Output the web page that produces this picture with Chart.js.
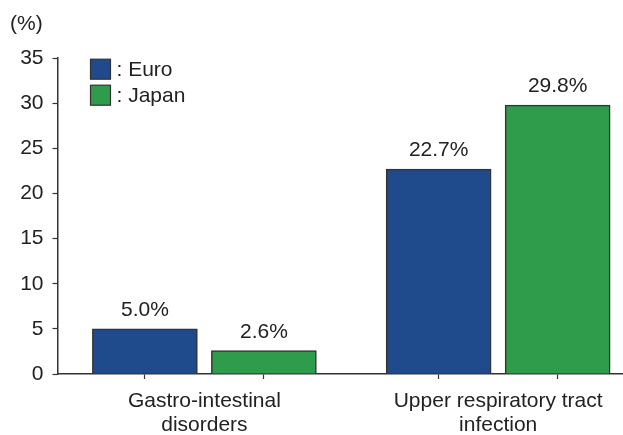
<!DOCTYPE html>
<html lang="en">
<head>
  <meta charset="UTF-8">
  <title>Euro vs Japan adverse events</title>
  <style>
body {
  margin: 0;
  background: #ffffff;
}
#wrap {
  width: 623px;
  height: 435px;
}
  </style>
</head>
<body>
  <div id="wrap"><canvas id="chart"></canvas></div>

  <script src="https://cdn.jsdelivr.net/npm/chart.js"></script>
  <script>
    const categories = [['Gastro-intestinal', 'disorders'], ['Upper respiratory tract', 'infection']];
    const seriesNames = [': Euro', ': Japan'];
    const euroValues = [5.0, 22.7];
    const japanValues = [2.6, 29.8];
    const yTicks = [0, 5, 10, 15, 20, 25, 30, 35];

    const FONT = 'Liberation Sans, Arial, Helvetica, sans-serif';
    const INK = '#222222';
    const LINE = '#333333';
    const BAR_OFFSET = 0.2024; // half distance between the two bars of a group, in x units

    // tick marks sit under each bar, labels under each group
    const xTickValues = [];
    categories.forEach((_, i) => {
      xTickValues.push(i + 1 - BAR_OFFSET, i + 1, i + 1 + BAR_OFFSET);
    });
    const isCenter = v => Math.abs(v - Math.round(v)) < 1e-6;

    // legend drawn inside the plot area, top left
    const insideLegend = {
      id: 'insideLegend',
      afterDraw(chart) {
        const ctx = chart.ctx;
        const area = chart.chartArea;
        const x = area.left + 33;
        let y = area.top + 1;
        ctx.save();
        ctx.font = '21px ' + FONT;
        ctx.textBaseline = 'middle';
        chart.data.datasets.forEach(ds => {
          ctx.fillStyle = ds.backgroundColor;
          ctx.fillRect(x, y, 20, 20);
          ctx.strokeStyle = LINE;
          ctx.lineWidth = 1.2;
          ctx.strokeRect(x, y, 20, 20);
          ctx.fillStyle = INK;
          ctx.fillText(ds.label, x + 26, y + 11);
          y += 26;
        });
        ctx.restore();
      }
    };

    // value labels above the bars
    const valueLabels = {
      id: 'valueLabels',
      afterDatasetsDraw(chart) {
        const ctx = chart.ctx;
        ctx.save();
        ctx.font = '21px ' + FONT;
        ctx.fillStyle = INK;
        ctx.textAlign = 'center';
        ctx.textBaseline = 'alphabetic';
        chart.data.datasets.forEach((ds, di) => {
          chart.getDatasetMeta(di).data.forEach((bar, i) => {
            ctx.fillText(ds.data[i].y.toFixed(1) + '%', bar.x, bar.y - 13);
          });
        });
        ctx.restore();
      }
    };

    new Chart(document.getElementById('chart'), {
      type: 'bar',
      data: {
        datasets: [{
          label: seriesNames[0],
          data: euroValues.map((v, i) => ({ x: i + 1, y: v })),
          backgroundColor: '#1f4a8c',
          borderColor: LINE,
          borderWidth: 1.5
        }, {
          label: seriesNames[1],
          data: japanValues.map((v, i) => ({ x: i + 1, y: v })),
          backgroundColor: '#2e9c4a',
          borderColor: LINE,
          borderWidth: 1.5
        }]
      },
      options: {
        responsive: true,
        maintainAspectRatio: false,
        animation: false,
        barThickness: 119,
        maxBarThickness: 105,
        layout: {
          padding: { left: 10, right: 0, top: 0, bottom: 0 }
        },
        plugins: {
          legend: { display: false },
          tooltip: { enabled: false },
          title: {
            display: true,
            text: '(%)',
            align: 'start',
            color: INK,
            font: { family: FONT, size: 21, weight: 'normal', lineHeight: 1.2 },
            padding: { top: 12, bottom: 21 }
          }
        },
        scales: {
          x: {
            type: 'linear',
            offset: false,
            min: 0.5,
            max: 2.425,
            afterBuildTicks(scale) {
              scale.ticks = xTickValues.map(v => ({ value: v }));
            },
            afterFit(scale) {
              scale.height = 61;
            },
            grid: {
              offset: false,
              drawOnChartArea: false,
              tickLength: 5,
              tickWidth: 1.2,
              tickColor: c => (c.tick && isCenter(c.tick.value)) ? 'rgba(0,0,0,0)' : LINE
            },
            border: { color: LINE, width: 1.5 },
            ticks: {
              autoSkip: false,
              maxRotation: 0,
              padding: 10,
              color: INK,
              font: { family: FONT, size: 21, lineHeight: 1.15 },
              callback: v => isCenter(v) ? categories[Math.round(v) - 1] : ''
            }
          },
          y: {
            min: 0,
            max: 35,
            afterBuildTicks(scale) {
              scale.ticks = yTicks.map(v => ({ value: v }));
            },
            afterFit(scale) {
              scale.width = 47.5;
            },
            grid: {
              drawOnChartArea: false,
              tickLength: 5,
              tickWidth: 1.2,
              tickColor: LINE
            },
            border: { color: LINE, width: 1.5 },
            ticks: {
              padding: 9,
              color: INK,
              font: { family: FONT, size: 21 }
            }
          }
        }
      },
      plugins: [insideLegend, valueLabels]
    });
  </script>
</body>
</html>
